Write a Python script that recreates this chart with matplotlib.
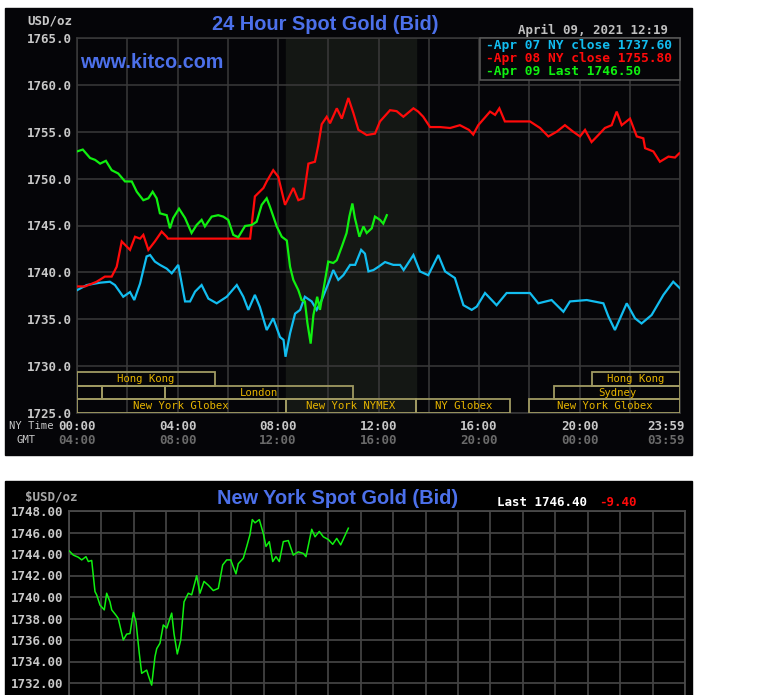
import matplotlib
matplotlib.use("Agg")
import matplotlib.pyplot as plt
from matplotlib.patches import Rectangle

W, H = 769, 695

# ---- 24 hour chart: (hours after midnight NY time, USD/oz)
apr07 = [(0.00, 1738.1), (0.39, 1738.65), (0.92, 1738.9), (1.31, 1739.0), (1.51, 1738.65),
         (1.84, 1737.4), (2.11, 1737.9), (2.28, 1737.05), (2.51, 1738.8), (2.77, 1741.7),
         (2.91, 1741.85), (3.10, 1741.15), (3.30, 1740.8), (3.57, 1740.4), (3.77, 1739.9),
         (4.03, 1740.8), (4.30, 1736.9), (4.50, 1736.9), (4.70, 1737.95), (4.96, 1738.65),
         (5.23, 1737.2), (5.56, 1736.7), (5.96, 1737.4), (6.36, 1738.65), (6.62, 1737.4),
         (6.82, 1736.0), (7.08, 1737.6), (7.28, 1736.3), (7.55, 1733.85), (7.81, 1735.1),
         (8.08, 1733.1), (8.22, 1732.8), (8.30, 1731.0), (8.48, 1733.5), (8.68, 1735.6),
         (8.88, 1736.0), (9.07, 1737.4), (9.34, 1736.9), (9.54, 1736.0), (9.74, 1737.05),
         (10.00, 1738.8), (10.20, 1740.25), (10.40, 1739.2), (10.60, 1739.7), (10.87, 1740.8),
         (11.07, 1740.8), (11.31, 1742.4), (11.46, 1742.0), (11.60, 1740.1), (11.80, 1740.25),
         (12.00, 1740.6), (12.26, 1741.1), (12.59, 1740.8), (12.86, 1740.8), (13.00, 1740.25),
         (13.39, 1741.85), (13.65, 1740.1), (13.98, 1739.7), (14.38, 1741.85), (14.65, 1740.1),
         (15.04, 1739.4), (15.38, 1736.5), (15.71, 1736.0), (15.91, 1736.35), (16.24, 1737.8),
         (16.70, 1736.5), (17.10, 1737.8), (18.03, 1737.8), (18.36, 1736.7), (18.89, 1737.05),
         (19.36, 1735.8), (19.62, 1736.9), (20.29, 1737.05), (20.95, 1736.7), (21.15, 1735.3),
         (21.41, 1733.85), (21.88, 1736.7), (22.21, 1735.1), (22.47, 1734.55), (22.87, 1735.45),
         (23.34, 1737.6), (23.73, 1739.0), (24.00, 1738.3)]

apr08 = [(0.00, 1738.5), (0.32, 1738.5), (0.78, 1739.0), (1.11, 1739.55), (1.38, 1739.55),
         (1.58, 1740.6), (1.78, 1743.3), (2.11, 1742.4), (2.31, 1743.8), (2.51, 1743.6),
         (2.64, 1744.0), (2.84, 1742.4), (3.10, 1743.3), (3.37, 1744.35), (3.57, 1743.8),
         (3.62, 1743.6), (6.89, 1743.6), (7.08, 1748.1), (7.42, 1749.0), (7.55, 1749.7),
         (7.81, 1750.9), (8.01, 1750.2), (8.28, 1747.2), (8.61, 1749.0), (8.81, 1747.7),
         (9.01, 1747.9), (9.21, 1751.6), (9.47, 1751.8), (9.60, 1753.5), (9.74, 1755.8),
         (9.94, 1756.6), (10.07, 1755.9), (10.34, 1757.5), (10.54, 1756.4), (10.80, 1758.6),
         (11.00, 1757.0), (11.20, 1755.2), (11.53, 1754.65), (11.86, 1754.8), (12.06, 1756.1),
         (12.46, 1757.3), (12.72, 1757.2), (12.99, 1756.6), (13.39, 1757.5), (13.58, 1757.15),
         (13.78, 1756.6), (14.05, 1755.5), (14.45, 1755.5), (14.85, 1755.4), (15.24, 1755.7),
         (15.60, 1755.2), (15.77, 1754.7), (15.97, 1755.7), (16.44, 1757.15), (16.64, 1756.8),
         (16.81, 1757.5), (17.03, 1756.1), (18.03, 1756.1), (18.43, 1755.4), (18.76, 1754.5),
         (19.09, 1755.0), (19.42, 1755.7), (19.75, 1755.0), (20.02, 1754.5), (20.22, 1755.2),
         (20.48, 1753.9), (20.75, 1754.65), (21.01, 1755.4), (21.28, 1755.7), (21.48, 1757.15),
         (21.68, 1755.7), (22.01, 1756.4), (22.28, 1754.5), (22.54, 1754.3), (22.61, 1753.25),
         (22.94, 1752.9), (23.20, 1751.8), (23.54, 1752.35), (23.80, 1752.25), (23.97, 1752.7)]

apr09 = [(0.00, 1752.9), (0.23, 1753.1), (0.52, 1752.2), (0.72, 1752.0), (0.92, 1751.6),
         (1.15, 1751.9), (1.38, 1750.9), (1.64, 1750.55), (1.91, 1749.7), (2.18, 1749.7),
         (2.38, 1748.6), (2.64, 1747.7), (2.84, 1747.9), (3.01, 1748.6), (3.17, 1747.9),
         (3.30, 1746.3), (3.57, 1746.1), (3.70, 1744.7), (3.83, 1745.8), (4.06, 1746.8),
         (4.30, 1745.8), (4.56, 1744.2), (4.76, 1745.05), (4.96, 1745.6), (5.09, 1744.9),
         (5.36, 1745.95), (5.62, 1746.1), (5.82, 1745.95), (6.02, 1745.6), (6.22, 1744.0),
         (6.42, 1743.75), (6.69, 1744.95), (6.95, 1745.05), (7.15, 1745.4), (7.35, 1747.2),
         (7.55, 1747.9), (7.68, 1747.0), (7.95, 1744.9), (8.15, 1743.8), (8.35, 1743.4),
         (8.48, 1740.6), (8.61, 1739.2), (8.81, 1738.1), (8.94, 1737.05), (9.07, 1736.9),
         (9.17, 1734.6), (9.30, 1732.4), (9.41, 1735.45), (9.56, 1737.4), (9.67, 1736.0),
         (9.83, 1738.5), (10.00, 1741.15), (10.20, 1741.0), (10.34, 1741.3), (10.54, 1742.75),
         (10.73, 1744.2), (10.84, 1745.95), (10.96, 1747.35), (11.06, 1745.8), (11.24, 1743.8),
         (11.40, 1744.9), (11.53, 1744.2), (11.73, 1744.7), (11.86, 1745.95), (12.06, 1745.6),
         (12.19, 1745.2), (12.33, 1746.1)]

series_labels = ["-Apr 07 NY close 1737.60", "-Apr 08 NY close 1755.80", "-Apr 09 Last 1746.50"]
series_colors = ["#12bdf0", "#ff0a0a", "#10f010"]

# trading sessions: (row, start hour, end hour, name)
sessions = [
    (2, 0.0, 5.5, "Hong Kong"), (2, 20.5, 24.0, "Hong Kong"),
    (1, 0.0, 1.0, ""), (1, 1.0, 3.5, ""), (1, 3.5, 11.0, "London"), (1, 19.0, 24.0, "Sydney"),
    (0, 0.0, 8.3, "New York Globex"), (0, 8.3, 13.5, "New York NYMEX"),
    (0, 13.5, 17.25, "NY Globex"), (0, 18.0, 24.0, "New York Globex"),
]
nymex_open, nymex_close = 8.3, 13.5

ny_hours = [0, 4, 8, 12, 16, 20, 23.45]
ny_labels = ["00:00", "04:00", "08:00", "12:00", "16:00", "20:00", "23:59"]
gmt_labels = ["04:00", "08:00", "12:00", "16:00", "20:00", "00:00", "03:59"]

# ---- New York spot chart (hours NY time, USD/oz)
nyspot = [(8.005, 1744.28), (8.066, 1743.9), (8.143, 1743.7), (8.196, 1743.45), (8.262, 1743.75),
          (8.298, 1743.3), (8.350, 1743.4), (8.401, 1740.5), (8.427, 1740.2), (8.478, 1739.25),
          (8.544, 1738.8), (8.581, 1740.35), (8.632, 1739.55), (8.659, 1738.8), (8.725, 1738.3),
          (8.760, 1738.0), (8.837, 1736.0), (8.890, 1736.55), (8.941, 1736.6), (8.992, 1738.55),
          (9.033, 1737.7), (9.084, 1734.75), (9.121, 1732.9), (9.198, 1733.2), (9.229, 1732.6),
          (9.275, 1731.8), (9.326, 1734.45), (9.353, 1735.2), (9.403, 1735.7), (9.454, 1737.4),
          (9.507, 1737.1), (9.531, 1737.55), (9.584, 1738.5), (9.619, 1736.6), (9.670, 1734.7),
          (9.723, 1736.0), (9.774, 1739.55), (9.840, 1740.35), (9.892, 1740.2), (9.969, 1741.98),
          (10.020, 1740.35), (10.082, 1741.45), (10.148, 1741.1), (10.225, 1740.6), (10.303, 1740.8),
          (10.370, 1742.98), (10.432, 1743.45), (10.494, 1743.45), (10.575, 1742.15), (10.611, 1743.1),
          (10.688, 1743.6), (10.741, 1744.7), (10.791, 1745.8), (10.827, 1747.2), (10.869, 1746.9),
          (10.935, 1747.2), (10.997, 1745.9), (11.038, 1744.7), (11.089, 1745.15), (11.142, 1743.3),
          (11.192, 1743.75), (11.243, 1743.3), (11.305, 1745.15), (11.382, 1745.25), (11.459, 1743.9),
          (11.536, 1744.2), (11.614, 1744.05), (11.655, 1743.75), (11.743, 1746.3), (11.794, 1745.6),
          (11.860, 1746.1), (11.922, 1745.6), (11.999, 1745.35), (12.067, 1744.9), (12.129, 1745.45),
          (12.190, 1744.85), (12.308, 1746.4)]

MONO = "DejaVu Sans Mono"
SANS = "Liberation Sans"
BLUE = "#4c70ea"
GRID = "#3a3a3a"


def fx(px):
    return px / W


def fy(py):
    return 1 - py / H


fig = plt.figure(figsize=(W / 100, H / 100), dpi=100, facecolor="white")

# black panels
fig.add_artist(Rectangle((fx(5), fy(455)), fx(692) - fx(5), fy(8) - fy(455),
                         transform=fig.transFigure, color="#050508", zorder=-2))
fig.add_artist(Rectangle((fx(5), fy(695)), fx(692) - fx(5), fy(481) - fy(695),
                         transform=fig.transFigure, color="#000000", zorder=-2))

# ================= top chart
ax = fig.add_axes([fx(77), fy(413), fx(680) - fx(77), fy(38) - fy(413)])
ax.set_facecolor("#050508")
ax.set_xlim(0, 24)
ax.set_ylim(1725, 1765)
ax.axvspan(nymex_open, nymex_close, color="#141714", zorder=0)
ax.set_xticks(range(0, 25, 2))
ax.set_yticks(range(1725, 1766, 5))
ax.set_xticklabels([])
ax.set_yticklabels(["%.1f" % v for v in range(1725, 1766, 5)])
ax.grid(True, color=GRID, lw=1.1, zorder=1)
ax.set_axisbelow(True)
ax.tick_params(length=0, pad=3.5, labelsize=9, labelcolor="#c8c8c8")
for lab in ax.get_yticklabels():
    lab.set_family(MONO)
    lab.set_weight("bold")
for s in ax.spines.values():
    s.set_color(GRID)
    s.set_linewidth(1.1)

for data, col in zip([apr07, apr08, apr09], series_colors):
    ax.plot([d[0] for d in data], [d[1] for d in data], color=col, lw=1.6, zorder=3,
            solid_joinstyle="miter")

# session bars
row_h = 1.45
for row, t0, t1, name in sessions:
    y0 = 1725 + row * row_h
    ax.add_patch(Rectangle((t0, y0), t1 - t0, row_h, fill=False, edgecolor="#a09a62",
                           lw=1.3, zorder=4))
    if name:
        ax.text((t0 + t1) / 2, y0 + row_h / 2, name, ha="center", va="center",
                color="#e6b400", fontsize=7.7, family=MONO, zorder=5)

xt = ax.get_xaxis_transform()
for h, a, b in zip(ny_hours, ny_labels, gmt_labels):
    ax.text(h, -0.035, a, transform=xt, ha="center", va="center", color="#c8c8c8",
            fontsize=9, family=MONO, weight="bold", clip_on=False)
    ax.text(h, -0.072, b, transform=xt, ha="center", va="center", color="#6a6a6a",
            fontsize=9, family=MONO, weight="bold", clip_on=False)
ax.text(-0.95, -0.035, "NY Time", transform=xt, ha="right", va="center", color="#c8c8c8",
        fontsize=7.6, family=MONO, clip_on=False)
ax.text(-2.03, -0.072, "GMT", transform=xt, ha="center", va="center", color="#c8c8c8",
        fontsize=7.6, family=MONO, clip_on=False)

# titles and labels
fig.text(fx(325), fy(25), "24 Hour Spot Gold (Bid)", ha="center", va="center",
         color=BLUE, fontsize=14.4, family=SANS, weight="bold")
fig.text(fx(80), fy(62), "www.kitco.com", ha="left", va="center",
         color=BLUE, fontsize=14.2, family=SANS, weight="bold", zorder=6)
fig.text(fx(72), fy(21), "USD/oz", ha="right", va="center", color="#c8c8c8",
         fontsize=9, family=MONO, weight="bold")
fig.text(fx(668), fy(30), "April 09, 2021 12:19", ha="right", va="center", color="#c0c0c0",
         fontsize=9, family=MONO, weight="bold")

# legend box
fig.add_artist(Rectangle((fx(480), fy(80)), fx(680) - fx(480), fy(38) - fy(80),
                         transform=fig.transFigure, facecolor="#050508",
                         edgecolor="#5a5a5a", lw=1.1, zorder=5))
for i, (lab, col) in enumerate(zip(series_labels, series_colors)):
    fig.text(fx(486), fy(45 + 13.4 * i), lab, ha="left", va="center", color=col,
             fontsize=9.3, family=MONO, weight="bold", zorder=6)

# ================= New York spot chart
ax2 = fig.add_axes([fx(69), fy(704.5), fx(685) - fx(69), fy(511) - fy(704.5)])
ax2.set_facecolor("#000000")
ax2.set_xlim(8, 17.5)
ax2.set_ylim(1730, 1748)
ax2.set_xticks([8 + 0.5 * i for i in range(20)])
ax2.set_yticks(range(1732, 1749, 2))
ax2.set_xticklabels([])
ax2.set_yticklabels(["%.2f" % v for v in range(1732, 1749, 2)])
ax2.grid(True, color="#424242", lw=1.3)
ax2.set_axisbelow(True)
ax2.tick_params(length=0, pad=4.3, labelsize=9, labelcolor="#c8c8c8")
for lab in ax2.get_yticklabels():
    lab.set_family(MONO)
    lab.set_weight("bold")
for s in ax2.spines.values():
    s.set_color("#4a4a4a")
    s.set_linewidth(1.3)
ax2.plot([d[0] for d in nyspot], [d[1] for d in nyspot], color="#10f010", lw=1.1, zorder=3)

fig.text(fx(338), fy(498), "New York Spot Gold (Bid)", ha="center", va="center",
         color=BLUE, fontsize=14.4, family=SANS, weight="bold")
fig.text(fx(77), fy(497), "$USD/oz", ha="right", va="center", color="#a8a8a8",
         fontsize=9, family=MONO, weight="bold")
fig.text(fx(497), fy(503), "Last 1746.40", ha="left", va="center", color="white",
         fontsize=9, family=MONO, weight="bold")
fig.text(fx(599), fy(503), "-9.40", ha="left", va="center", color="#ff0a0a",
         fontsize=9, family=MONO, weight="bold")

fig.savefig("out.png", dpi=100, facecolor="white")
